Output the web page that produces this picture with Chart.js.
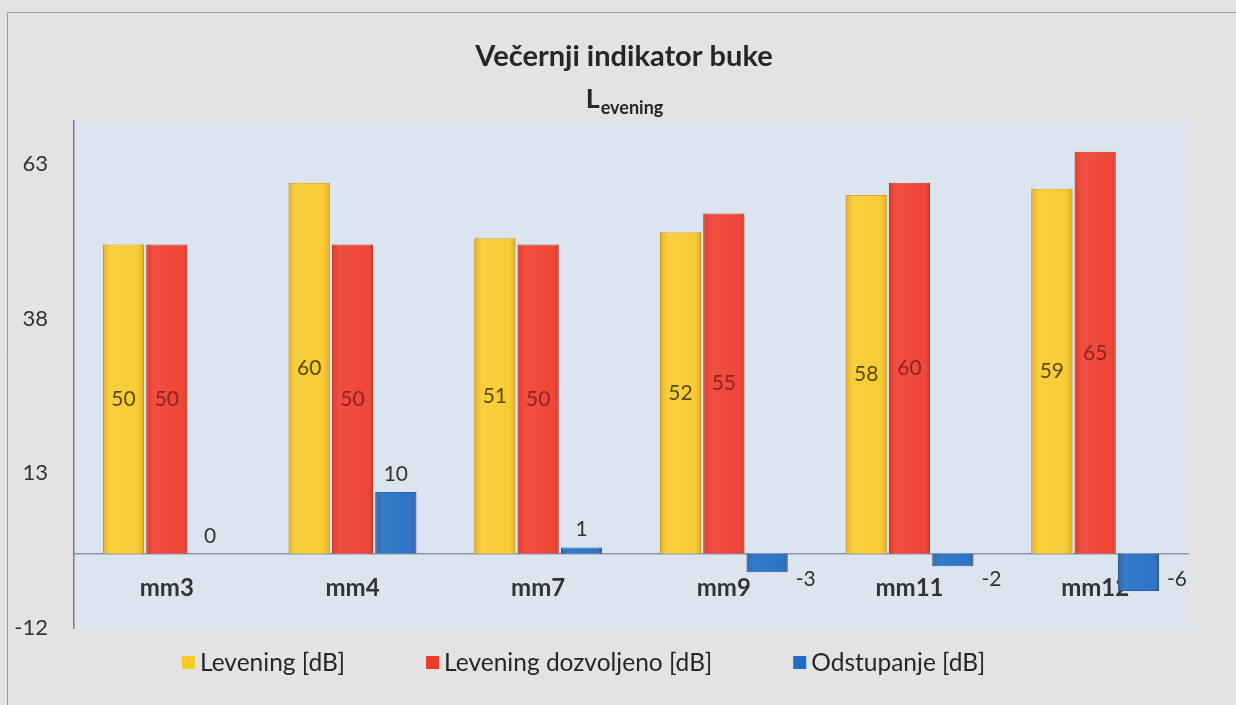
<!DOCTYPE html>
<html>
<head>
<meta charset="utf-8">
<title>Večernji indikator buke</title>
<script src="https://cdn.jsdelivr.net/npm/chart.js@4.4.1/dist/chart.umd.min.js"></script>
<style>
    html, body { margin: 0; padding: 0; background: #e3e3e3; }
    canvas { display: block; }
</style>
</head>
<body>
<canvas id="grafica" width="1236" height="705"></canvas>
<script>
// podaci
const kategorije = ['mm3', 'mm4', 'mm7', 'mm9', 'mm11', 'mm12'];
const levening = [50, 60, 51, 52, 58, 59];
const dozvoljeno = [50, 50, 50, 55, 60, 65];
const odstupanje = [0, 10, 1, -3, -2, -6];
const yTicks = [-12, 13, 38, 63];

const naslov = 'Večernji indikator buke';
const podnaslov = ['L', 'evening'];
const nazivi = ['Levening [dB]', 'Levening dozvoljeno [dB]', 'Odstupanje [dB]'];

const boje = ['#f9c928', '#f03b2c', '#1f6cc4'];
const rubovi = ['#d9a20c', '#c92a1f', '#16559e'];
const bojeOznaka = ['#5a4a12', '#8a2720', '#333333'];

Chart.defaults.font.family = 'Lato';

// pozadina, okvir i plavo podrucje grafa
const pozadina = {
    id: 'pozadina',
    afterLayout(chart) {
        // naslov je u originalu malo desno od sredine
        if (chart.titleBlock) chart.titleBlock.left += 50;
    },
    beforeDraw(chart) {
        const { ctx, chartArea } = chart;
        ctx.save();
        ctx.fillStyle = '#e3e3e3';
        ctx.fillRect(0, 0, chart.width, chart.height);
        ctx.strokeStyle = '#9a9a9a';
        ctx.lineWidth = 1;
        ctx.beginPath();
        ctx.moveTo(7.5, chart.height);
        ctx.lineTo(7.5, 12.5);
        ctx.lineTo(chart.width, 12.5);
        ctx.stroke();
        ctx.fillStyle = '#dce5ef';
        ctx.fillRect(chartArea.left, chartArea.top, chartArea.right - chartArea.left, chartArea.bottom - chartArea.top);
        ctx.restore();
    }
};

// lagani reljef na stupcima (kao u Excelu)
const reljef = {
    id: 'reljef',
    afterDatasetsDraw(chart) {
        const ctx = chart.ctx;
        ctx.save();
        chart.data.datasets.forEach((ds, di) => {
            chart.getDatasetMeta(di).data.forEach(bar => {
                const l = bar.x - bar.width / 2;
                const top = Math.min(bar.y, bar.base);
                const h = Math.abs(bar.base - bar.y);
                if (h < 1) return;
                const g = ctx.createLinearGradient(l, 0, l + bar.width, 0);
                g.addColorStop(0, 'rgba(120,60,0,0.18)');
                g.addColorStop(0.2, 'rgba(255,255,255,0.10)');
                g.addColorStop(0.8, 'rgba(255,255,255,0.06)');
                g.addColorStop(1, 'rgba(120,40,0,0.20)');
                ctx.fillStyle = g;
                ctx.fillRect(l, top, bar.width, h);
            });
        });
        ctx.restore();
    }
};

// L s indeksom "evening"
const podnaslovCrtanje = {
    id: 'podnaslovCrtanje',
    afterDraw(chart) {
        const ctx = chart.ctx;
        const tb = chart.titleBlock;
        const cx = tb ? (tb.left + tb.right) / 2 : chart.width / 2;
        ctx.save();
        ctx.fillStyle = '#262626';
        ctx.textAlign = 'left';
        ctx.textBaseline = 'alphabetic';
        ctx.font = 'bold 27px Lato';
        const w1 = ctx.measureText(podnaslov[0]).width;
        ctx.font = 'bold 18px Lato';
        const w2 = ctx.measureText(podnaslov[1]).width;
        const x = cx - (w1 + w2) / 2;
        ctx.font = 'bold 27px Lato';
        ctx.fillText(podnaslov[0], x, 108);
        ctx.font = 'bold 18px Lato';
        ctx.fillText(podnaslov[1], x + w1 + 1, 114);
        ctx.restore();
    }
};

// vrijednosti na stupcima
const oznakeVrijednosti = {
    id: 'oznakeVrijednosti',
    afterDatasetsDraw(chart) {
        const ctx = chart.ctx;
        const nula = chart.scales.y.getPixelForValue(0);
        ctx.save();
        ctx.font = '21px Lato';
        ctx.textBaseline = 'middle';
        chart.data.datasets.forEach((ds, di) => {
            chart.getDatasetMeta(di).data.forEach((bar, i) => {
                const v = ds.data[i];
                ctx.fillStyle = bojeOznaka[di];
                if (di < 2) {
                    ctx.textAlign = 'center';
                    ctx.fillText(String(v), bar.x, (bar.y + bar.base) / 2);
                } else if (v >= 0) {
                    ctx.textAlign = 'center';
                    ctx.fillText(String(v), bar.x, bar.y - 18);
                } else {
                    ctx.textAlign = 'left';
                    ctx.fillText(String(v), bar.x + bar.width / 2 + 8, nula + 25);
                }
            });
        });
        ctx.restore();
    }
};

// legenda ispod grafa
const legenda = {
    id: 'legenda',
    afterDraw(chart) {
        const ctx = chart.ctx;
        const y = 663;
        let x = 182;
        ctx.save();
        ctx.font = '24.5px Lato';
        ctx.textBaseline = 'middle';
        ctx.textAlign = 'left';
        chart.data.datasets.forEach(ds => {
            ctx.fillStyle = ds.backgroundColor;
            ctx.fillRect(x, y - 7, 13, 13);
            ctx.fillStyle = '#262626';
            ctx.fillText(ds.label, x + 18, y);
            x += 18 + ctx.measureText(ds.label).width + 81;
        });
        ctx.restore();
    }
};

const ctx = document.getElementById('grafica').getContext('2d');
const myChart = new Chart(ctx, {
    type: 'bar',
    data: {
        labels: kategorije,
        datasets: [
            { label: nazivi[0], data: levening, backgroundColor: boje[0], borderColor: rubovi[0], borderWidth: 1 },
            { label: nazivi[1], data: dozvoljeno, backgroundColor: boje[1], borderColor: rubovi[1], borderWidth: 1 },
            { label: nazivi[2], data: odstupanje, backgroundColor: boje[2], borderColor: rubovi[2], borderWidth: 1 }
        ]
    },
    options: {
        responsive: false,
        devicePixelRatio: 1,
        animation: false,
        barPercentage: 0.95,
        categoryPercentage: 0.7,
        layout: {
            padding: { left: 10, right: 48, top: 12, bottom: 77 }
        },
        scales: {
            x: {
                position: { y: 0 },
                grid: { display: false, drawTicks: false },
                border: { display: true, color: '#8797a8', width: 1.5 },
                ticks: {
                    color: '#333333',
                    padding: 20,
                    font: { size: 24, weight: 'bold' }
                }
            },
            y: {
                min: -12,
                max: 70,
                grid: { display: false, drawTicks: false },
                border: { display: true, color: '#7d7d7d', width: 1.5 },
                ticks: {
                    color: '#333333',
                    padding: 26,
                    font: { size: 22 }
                },
                afterBuildTicks(scale) {
                    scale.ticks = yTicks.map(v => ({ value: v }));
                },
                afterFit(scale) { scale.width = 64; }
            }
        },
        plugins: {
            legend: { display: false },
            tooltip: { enabled: false },
            title: {
                display: true,
                text: naslov,
                color: '#262626',
                font: { size: 29, weight: 'bold' },
                padding: { top: 27, bottom: 47 }
            }
        }
    },
    plugins: [pozadina, reljef, podnaslovCrtanje, oznakeVrijednosti, legenda]
});
</script>
</body>
</html>
